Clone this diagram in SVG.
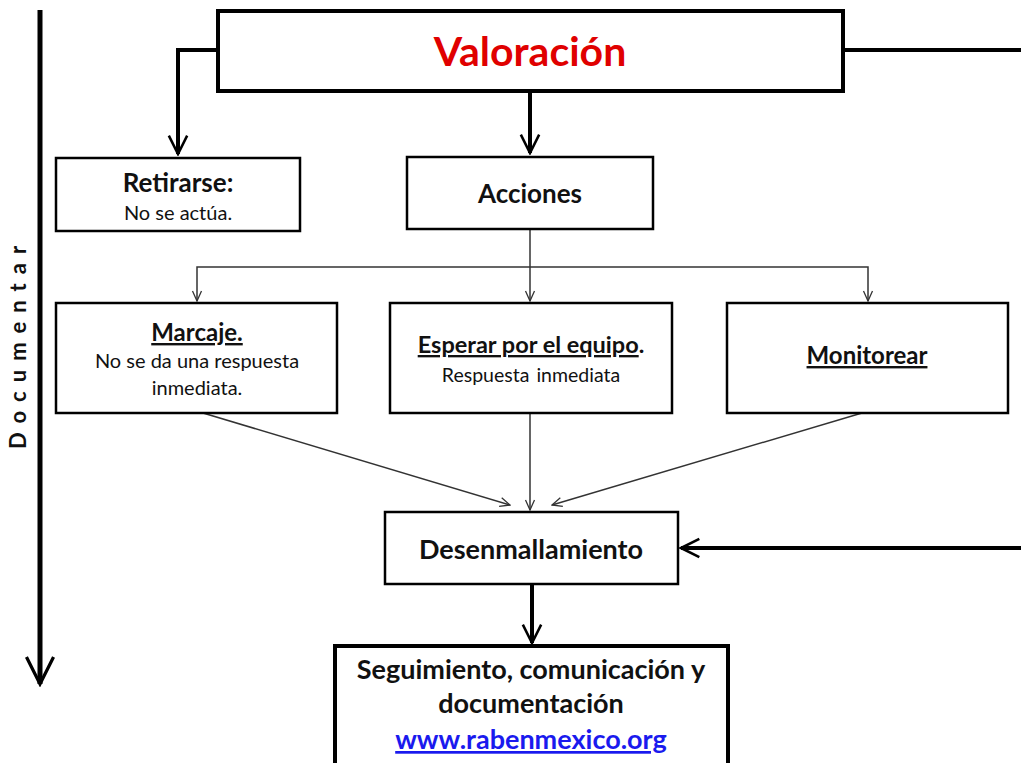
<svg xmlns="http://www.w3.org/2000/svg" width="1021" height="763" viewBox="0 0 1021 763">
<style>
.box{fill:#fff;stroke:#000;stroke-width:2.5}
.thick{fill:#fff;stroke:#000;stroke-width:4}
.t{font-family:Lato,"Liberation Sans",sans-serif;text-anchor:middle;fill:#111}
.b{font-weight:bold}
.c{fill:none;stroke:#000}
.cw{stroke-width:4}
.cn{stroke-width:1.5;stroke:#333}
</style>
<defs>
<marker id="ah" viewBox="0 0 12 12" refX="11" refY="6" markerWidth="5.5" markerHeight="5.5" markerUnits="strokeWidth" orient="auto">
<path d="M1,1 L11,6 L1,11" fill="none" stroke="#000" stroke-width="1.4"/>
</marker>
<marker id="ab" viewBox="0 0 12 12" refX="11" refY="6" markerWidth="6.5" markerHeight="6.5" markerUnits="strokeWidth" orient="auto">
<path d="M1,1 L11,6 L1,11" fill="none" stroke="#000" stroke-width="1.2"/>
</marker>
<marker id="an" viewBox="0 0 12 12" refX="11" refY="6" markerWidth="8" markerHeight="8" markerUnits="strokeWidth" orient="auto">
<path d="M1,1.5 L11,6 L1,10.5" fill="none" stroke="#333" stroke-width="1.3"/>
</marker>
</defs>
<g id="documentar">
<line x1="40" y1="10" x2="40" y2="684" class="c" stroke-width="5" marker-end="url(#ab)"/>
<text class="t b" transform="translate(26,343) rotate(-90)" font-size="22" letter-spacing="9">Documentar</text>
</g>
<g id="connectors">
<polyline points="218,50 178,50 178,154" class="c cw" marker-end="url(#ah)"/>
<line x1="530" y1="91" x2="530" y2="153" class="c cw" marker-end="url(#ah)"/>
<polyline points="843,50 1023,50" class="c cw"/>
<line x1="1023" y1="548" x2="681" y2="548" class="c cw" marker-end="url(#ah)"/>
<line x1="530" y1="229" x2="530" y2="301" class="c cn" marker-end="url(#an)"/>
<polyline points="530,267 197,267 197,301" class="c cn" marker-end="url(#an)"/>
<polyline points="530,267 868,267 868,301" class="c cn" marker-end="url(#an)"/>
<line x1="203" y1="413" x2="510" y2="505" class="c cn" marker-end="url(#an)"/>
<line x1="530" y1="413" x2="530" y2="510" class="c cn" marker-end="url(#an)"/>
<line x1="862" y1="413" x2="552" y2="505" class="c cn" marker-end="url(#an)"/>
<line x1="532" y1="584" x2="532" y2="643" class="c cw" marker-end="url(#ah)"/>
</g>
<g id="valoracion">
<rect x="218" y="11" width="625" height="80" class="thick"/>
<text class="t b" x="530" y="66" font-size="41" style="fill:#e00000">Valoración</text>
</g>
<g id="retirarse">
<rect x="56" y="158" width="244" height="73" class="box"/>
<text class="t b" x="178" y="192" font-size="26">Retirarse:</text>
<text class="t" x="178" y="220" font-size="20">No se actúa.</text>
</g>
<g id="acciones">
<rect x="407" y="157" width="246" height="72" class="box"/>
<text class="t b" x="530" y="203" font-size="26">Acciones</text>
</g>
<g id="marcaje">
<rect x="56" y="303" width="281" height="110" class="box"/>
<text class="t b" x="197" y="341" font-size="24" text-decoration="underline">Marcaje.</text>
<text class="t" x="197" y="368" font-size="20">No se da una respuesta</text>
<text class="t" x="197" y="395" font-size="20">inmediata.</text>
</g>
<g id="esperar">
<rect x="390" y="303" width="282" height="110" class="box"/>
<text class="t b" x="531" y="353" font-size="23.5"><tspan text-decoration="underline">Esperar por el equipo</tspan>.</text>
<text class="t" x="531" y="382" font-size="19.5" word-spacing="2">Respuesta inmediata</text>
</g>
<g id="monitorear">
<rect x="727" y="303" width="281" height="110" class="box"/>
<text class="t b" x="867" y="364" font-size="24" text-decoration="underline">Monitorear</text>
</g>
<g id="desenmallamiento">
<rect x="385" y="512" width="293" height="72" class="box"/>
<text class="t b" x="531" y="559" font-size="27">Desenmallamiento</text>
</g>
<g id="seguimiento">
<rect x="335" y="646" width="393" height="130" class="thick"/>
<text class="t b" x="531" y="679" font-size="27">Seguimiento, comunicación y</text>
<text class="t b" x="531" y="713" font-size="27">documentación</text>
<text class="t b" x="531" y="749" font-size="27" style="fill:#1a1aee" text-decoration="underline">www.rabenmexico.org</text>
</g>
</svg>
